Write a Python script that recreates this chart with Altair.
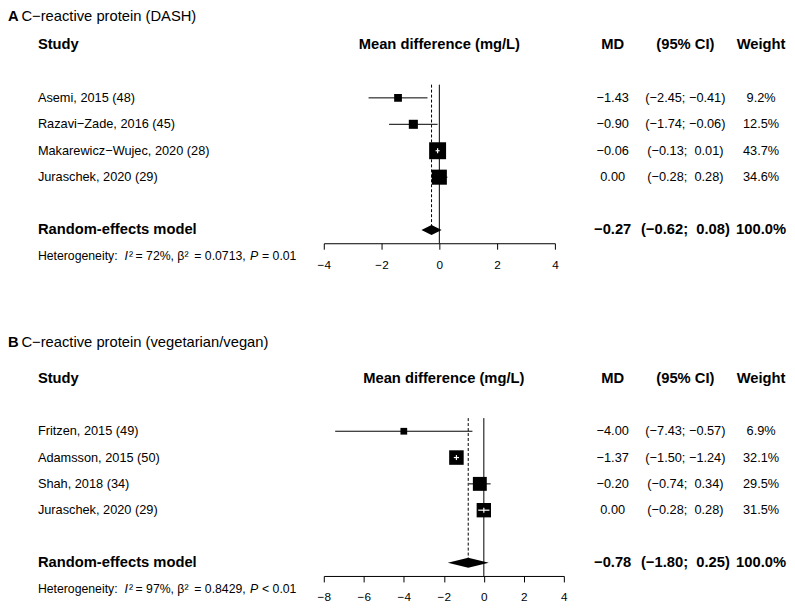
import altair as alt
import pandas as pd

FONT = "Liberation Sans"
MINUS = "\u2212"
NBSP = "\u00a0"

# ---------------- data: panel A ----------------
A_LETTER = "A"
A_TITLE = "C\u2212reactive protein (DASH)"
A_STUDIES = ["Asemi, 2015 (48)", "Razavi\u2212Zade, 2016 (45)",
             "Makarewicz\u2212Wujec, 2020 (28)", "Juraschek, 2020 (29)"]
A_MD = [-1.43, -0.90, -0.06, 0.00]
A_LOWER = [-2.45, -1.74, -0.13, -0.28]
A_UPPER = [-0.41, -0.06, 0.01, 0.28]
A_WEIGHT = [9.2, 12.5, 43.7, 34.6]
A_POOLED = [-0.27, -0.62, 0.08]          # estimate, lower, upper
A_I2, A_TAU2, A_P = "72%", "0.0713", "= 0.01"
A_TICKS = [-4, -2, 0, 2, 4]
A_DOMAIN = [-4, 4]

# ---------------- data: panel B ----------------
B_LETTER = "B"
B_TITLE = "C\u2212reactive protein (vegetarian/vegan)"
B_STUDIES = ["Fritzen, 2015 (49)", "Adamsson, 2015 (50)",
             "Shah, 2018 (34)", "Juraschek, 2020 (29)"]
B_MD = [-4.00, -1.37, -0.20, 0.00]
B_LOWER = [-7.43, -1.50, -0.74, -0.28]
B_UPPER = [-0.57, -1.24, 0.34, 0.28]
B_WEIGHT = [6.9, 32.1, 29.5, 31.5]
B_POOLED = [-0.78, -1.80, 0.25]
B_I2, B_TAU2, B_P = "97%", "0.8429", "< 0.01"
B_TICKS = [-8, -6, -4, -2, 0, 2, 4]
B_DOMAIN = [-8, 4]

HEADERS = ["Study", "Mean difference (mg/L)", "MD", "(95% CI)", "Weight"]
POOLED_LABEL = "Random-effects model"
POOLED_WEIGHT = "100.0%"

# ---------------- style ----------------
W = 779
MAX_SIDE = 17.0
DIAMOND_HALF = 0.19
TICK_HALF = 0.095
AXIS_ROW = 7.5
COL_STUDY, COL_MD, COL_CI, COL_W = 30, 607, 680, 756
FS_NORMAL, FS_BOLD, FS_HET = 12.8, 14.8, 12.3


def fmt(v):
    return f"{v:.2f}".replace("-", MINUS)


def ci(l, u):
    sep = ";" + NBSP if u < 0 else ";" + NBSP + NBSP
    return "(" + fmt(l) + sep + fmt(u) + ")"


def make_panel(letter, title, studies, md, lower, upper, weight, pooled,
               i2, tau2, pval, ticks, x_domain, x_range, r_top, height, title_row):
    ys = alt.Scale(domain=[r_top, AXIS_ROW], reverse=True, nice=False, zero=False)
    xs = alt.Scale(domain=x_domain, range=x_range, nice=False, zero=False)
    xaxis = alt.Axis(values=ticks, title=None, grid=False, domainColor="black",
                     tickColor="black", tickSize=6, tickWidth=1, domainWidth=1,
                     labelFont=FONT, labelFontSize=11.8, labelColor="black",
                     labelPadding=10, labelFlush=False, labelOverlap=False, format="d")

    def X(field=None, datum=None):
        if datum is not None:
            return alt.XDatum(datum, type="quantitative", scale=xs, axis=xaxis)
        return alt.X(field, type="quantitative", scale=xs, axis=xaxis)

    def Y(field=None, datum=None):
        if datum is not None:
            return alt.YDatum(datum, type="quantitative", scale=ys, axis=None)
        return alt.Y(field, type="quantitative", scale=ys, axis=None)

    def txt(text, x, row, size=FS_NORMAL, bold=False, italic=False, align="left"):
        enc_x = x if not isinstance(x, (int, float)) else alt.value(x)
        return alt.Chart(pd.DataFrame({"t": [text]})).mark_text(
            align=align, baseline="middle", font=FONT, fontSize=size,
            fontWeight="bold" if bold else "normal",
            fontStyle="italic" if italic else "normal", color="black"
        ).encode(x=enc_x, y=Y(datum=row), text="t:N")

    def coltxt(data, field, x, align, size=FS_NORMAL):
        return alt.Chart(data).mark_text(
            align=align, baseline="middle", font=FONT, fontSize=size, color="black"
        ).encode(x=alt.value(x), y=Y("row"), text=f"{field}:N")

    n = len(studies)
    px_unit = (x_range[1] - x_range[0]) / (x_domain[1] - x_domain[0])
    wmax = max(weight)
    sides = [MAX_SIDE * (w / wmax) ** 0.5 for w in weight]
    inside = [max(m - l, u - m) * px_unit < s / 2
              for m, l, u, s in zip(md, lower, upper, sides)]
    rows = [2 + i for i in range(n)]
    df = pd.DataFrame({
        "study": studies, "md": md, "lower": lower, "upper": upper,
        "weight": weight, "row": rows, "inside": inside,
        "md_txt": [fmt(v) for v in md],
        "ci_txt": [ci(l, u) for l, u in zip(lower, upper)],
        "w_txt": [f"{w:.1f}%" for w in weight],
    })
    df["yt1"] = df["row"] - TICK_HALF
    df["yt2"] = df["row"] + TICK_HALF
    df_out = df[~df["inside"]]
    df_in = df[df["inside"]]

    est, lo, hi = pooled
    prow = 7
    one = pd.DataFrame({"a": [0]})

    zero_line = alt.Chart(one).mark_rule(color="black", strokeWidth=1).encode(
        x=X(datum=0), y=Y(datum=1.5), y2=alt.Y2Datum(AXIS_ROW))
    dash_line = alt.Chart(one).mark_rule(color="black", strokeWidth=1,
                                         strokeDash=[3, 2]).encode(
        x=X(datum=est), y=Y(datum=1.5), y2=alt.Y2Datum(prow))
    ci_black = alt.Chart(df_out).mark_rule(color="black", strokeWidth=1).encode(
        x=X("lower"), x2="upper", y=Y("row"))
    squares = alt.Chart(df).mark_square(color="black", opacity=1, filled=True).encode(
        x=X("md"), y=Y("row"),
        size=alt.Size("weight:Q", scale=alt.Scale(domain=[0, wmax], range=[0, MAX_SIDE ** 2]),
                      legend=None))
    ci_white = alt.Chart(df_in).mark_rule(color="white", strokeWidth=1.2).encode(
        x=X("lower"), x2="upper", y=Y("row"))
    tick_white = alt.Chart(df_in).mark_rule(color="white", strokeWidth=1.2).encode(
        x=X("md"), y=Y("yt1"), y2="yt2")
    dd = pd.DataFrame({"x": [lo, est, hi],
                       "y": [prow, prow - DIAMOND_HALF, prow],
                       "y2": [prow, prow + DIAMOND_HALF, prow]})
    diamond = alt.Chart(dd).mark_area(color="black", opacity=1, orient="vertical").encode(
        x=X("x"), y=Y("y"), y2="y2")

    mid = (x_domain[0] + x_domain[1]) / 2
    layers = [
        zero_line, dash_line, ci_black, squares, ci_white, tick_white, diamond,
        txt(letter, 0, title_row, size=14.8, bold=True),
        txt(title, 13.5, title_row, size=14.8),
        txt(HEADERS[0], COL_STUDY, 0, size=FS_BOLD, bold=True),
        txt(HEADERS[1], X(datum=mid), 0, size=FS_BOLD, bold=True, align="center"),
        txt(HEADERS[2], COL_MD, 0, size=FS_BOLD, bold=True, align="center"),
        txt(HEADERS[3], COL_CI, 0, size=FS_BOLD, bold=True, align="center"),
        txt(HEADERS[4], COL_W, 0, size=FS_BOLD, bold=True, align="center"),
        coltxt(df, "study", COL_STUDY, "left"),
        coltxt(df, "md_txt", COL_MD, "center"),
        coltxt(df, "ci_txt", COL_CI, "center"),
        coltxt(df, "w_txt", COL_W, "center"),
        txt(POOLED_LABEL, COL_STUDY, prow, size=FS_BOLD, bold=True),
        txt(fmt(est), COL_MD, prow, size=FS_BOLD, bold=True, align="center"),
        txt(ci(lo, hi), COL_CI, prow, size=FS_BOLD, bold=True, align="center"),
        txt(POOLED_WEIGHT, COL_W, prow, size=FS_BOLD, bold=True, align="center"),
        # heterogeneity line
        txt("Heterogeneity:", 30, 8, size=FS_HET),
        txt("I", 117, 8, size=FS_HET, italic=True),
        txt("\u00b2", 121.5, 8, size=FS_HET),
        txt("= " + i2 + ",", 128, 8, size=FS_HET),
        txt("\u03b2\u00b2", 170, 8, size=FS_HET),
        txt("= " + tau2 + ",", 187, 8, size=FS_HET),
        txt("P", 243, 8, size=FS_HET, italic=True),
        txt(pval, 255, 8, size=FS_HET),
    ]
    return alt.layer(*layers).properties(width=W, height=height)


panel_a = make_panel(A_LETTER, A_TITLE, A_STUDIES, A_MD, A_LOWER, A_UPPER, A_WEIGHT,
                     A_POOLED, A_I2, A_TAU2, A_P, A_TICKS, A_DOMAIN, [317, 549],
                     r_top=-1.357, height=235, title_row=-1.055)
panel_b = make_panel(B_LETTER, B_TITLE, B_STUDIES, B_MD, B_LOWER, B_UPPER, B_WEIGHT,
                     B_POOLED, B_I2, B_TAU2, B_P, B_TICKS, B_DOMAIN, [317, 558],
                     r_top=-1.7, height=243, title_row=-1.36)

chart = alt.vconcat(panel_a, panel_b, spacing=63).properties(
    padding=0, background="white"
).configure_view(stroke=None)

chart.save("out.html", embed_options={"renderer": "svg", "actions": False})
